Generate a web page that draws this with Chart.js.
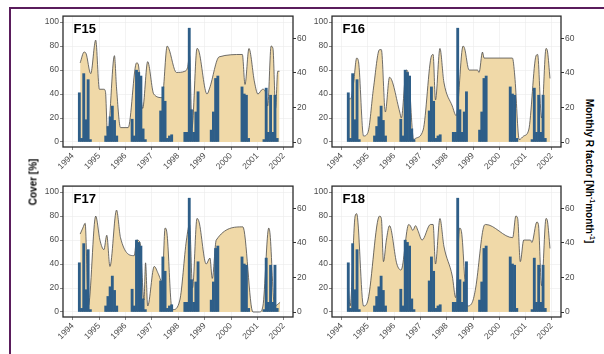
<!DOCTYPE html>
<html>
<head>
<meta charset="utf-8">
<script src="https://cdn.jsdelivr.net/npm/chart.js@4.4.0/dist/chart.umd.min.js"></script>
<style>
  html, body { margin: 0; padding: 0; background: #fff; }
  body { width: 604px; height: 354px; position: relative; overflow: hidden; font-family: "Liberation Sans", Arial, sans-serif; }
  .frame-top { position: absolute; left: 9px; top: 7px; width: 595px; height: 2px; background: #5a1d5c; }
  .frame-left { position: absolute; left: 9px; top: 7px; width: 2px; height: 347px; background: #5a1d5c; }
  canvas { position: absolute; }
  .ytitle { position: absolute; font-weight: bold; font-size: 10px; color: #000; white-space: nowrap; transform-origin: center; }
  .ytitle sup { font-size: 7px; }
</style>
</head>
<body>
<div class="frame-top"></div>
<div class="frame-left"></div>

<canvas id="c15" width="285" height="165" style="left:30px; top:10px;"></canvas>
<canvas id="c16" width="284" height="165" style="left:299px; top:10px;"></canvas>
<canvas id="c17" width="285" height="165" style="left:30px; top:180px;"></canvas>
<canvas id="c18" width="284" height="165" style="left:299px; top:180px;"></canvas>

<div class="ytitle" style="left:33px; top:182px; transform:translate(-50%,-50%) rotate(-90deg);">Cover [%]</div>
<div class="ytitle" style="left:590px; top:171px; transform:translate(-50%,-50%) rotate(90deg);">Monthly R factor [Nh<sup>-1</sup>month<sup>-1</sup>]</div>

<script>
// axis ticks
const yearTicks = [1994, 1995, 1996, 1997, 1998, 1999, 2000, 2001, 2002];
const coverTicks = [0, 20, 40, 60, 80, 100];
const rTicks = [0, 20, 40, 60];

// monthly R factor (same rainfall for every plot)
const rMonths = [
  '1994-04', '1994-05', '1994-06', '1994-07', '1994-08', '1994-09',
  '1995-04', '1995-05', '1995-06', '1995-07', '1995-08', '1995-09',
  '1996-04', '1996-05', '1996-06', '1996-07', '1996-08', '1996-09', '1996-10',
  '1997-05', '1997-06', '1997-07', '1997-08', '1997-09', '1997-10',
  '1998-04', '1998-05', '1998-06', '1998-07', '1998-08', '1998-09', '1998-10',
  '1999-04', '1999-05', '1999-06', '1999-07',
  '2000-06', '2000-07', '2000-08', '2000-09',
  '2001-04', '2001-05', '2001-06', '2001-07', '2001-08', '2001-09', '2001-10'
];
const rFactor = [
  28.5, 2.1, 39.6, 12.9, 36.1, 1.4,
  3.5, 9.0, 14.6, 20.8, 12.5, 3.5,
  13.2, 3.5, 41.6, 40.3, 38.2, 7.6, 1.4,
  18.0, 31.9, 23.6, 2.1, 3.5, 4.2,
  5.6, 5.6, 65.9, 18.7, 5.6, 17.4, 29.1,
  6.9, 17.4, 36.8, 38.2,
  31.9, 27.8, 27.1, 2.1,
  1.4, 31.2, 5.6, 27.1, 5.6, 27.1, 2.1
];

// vegetation cover per plot (decimal year, %)
const f15Years = [1994.28, 1994.43, 1994.50, 1994.68, 1994.87, 1995.01, 1995.18, 1995.24, 1995.32, 1995.58, 1995.66, 1995.81, 1996.10, 1996.42, 1996.48, 1996.65, 1996.84, 1997.07, 1997.39, 1997.58, 1997.64, 1997.93, 1998.25, 1998.35, 1998.43, 1998.52, 1998.71, 1998.78, 1999.09, 1999.19, 1999.55, 2000.43, 2000.53, 2000.68, 2000.89, 2001.02, 2001.20, 2001.33, 2001.39, 2001.52, 2001.59, 2001.69, 2001.77, 2001.84];
const f15Cover = [66, 75, 74, 57, 85, 44, 44, 42, 5, 72, 45, 12, 12, 66, 65, 28, 67, 40, 37, 80, 78, 58, 59, 62, 72, 12, 78, 76, 40, 45, 71, 73, 48, 78, 50, 40, 44, 40, 30, 80, 78, 28, 59, 59];

const f16Years = [1994.23, 1994.34, 1994.45, 1994.57, 1994.64, 1994.83, 1995.00, 1995.21, 1995.44, 1995.51, 1995.66, 1995.82, 1996.21, 1996.27, 1996.46, 1996.55, 1996.74, 1996.81, 1997.10, 1997.42, 1997.48, 1997.57, 1997.74, 1997.89, 1998.21, 1998.36, 1998.62, 1998.68, 1998.85, 1999.17, 1999.23, 1999.36, 1999.42, 2000.50, 2000.59, 2000.76, 2000.93, 2001.12, 2001.40, 2001.46, 2001.61, 2001.78, 2001.84, 2001.93];
const f16Cover = [36, 36, 49, 70, 67, 5, 8, 45, 77, 77, 25, 54, 25, 20, 60, 55, 2, 3, 10, 72, 73, 35, 78, 50, 30, 22, 80, 78, 60, 60, 58, 75, 70, 70, 55, 2, 5, 10, 72, 73, 20, 78, 75, 53];

const f17Years = [1994.28, 1994.38, 1994.47, 1994.59, 1994.87, 1995.03, 1995.18, 1995.29, 1995.41, 1995.66, 1995.81, 1996.33, 1996.42, 1996.55, 1996.70, 1996.76, 1996.84, 1997.09, 1997.24, 1997.39, 1997.50, 1997.58, 1997.74, 1997.80, 1998.06, 1998.31, 1998.43, 1998.54, 1998.71, 1998.79, 1999.06, 1999.20, 1999.29, 1999.44, 2000.45, 2000.83, 2001.08, 2001.21, 2001.43, 2001.48, 2001.65, 2001.86];
const f17Cover = [65, 70, 74, 5, 80, 60, 52, 64, 38, 85, 62, 47, 60, 58, 10, 41, 5, 38, 32, 25, 70, 64, 5, 2, 10, 60, 73, 20, 78, 75, 40, 45, 28, 60, 71, 0, 0, 5, 70, 65, 5, 8];

const f18Years = [1994.23, 1994.32, 1994.51, 1994.57, 1994.83, 1995.00, 1995.44, 1995.51, 1995.59, 1995.70, 1995.82, 1996.10, 1996.26, 1996.55, 1996.61, 1996.71, 1996.81, 1996.90, 1997.06, 1997.38, 1997.48, 1997.57, 1997.74, 1997.89, 1998.21, 1998.34, 1998.49, 1998.56, 1998.78, 1998.97, 1999.10, 1999.42, 1999.48, 2000.51, 2000.63, 2000.70, 2000.80, 2000.93, 2001.19, 2001.24, 2001.43, 2001.49, 2001.61, 2001.78, 2001.84, 2001.93];
const f18Cover = [28, 5, 80, 82, 5, 10, 80, 78, 42, 60, 72, 40, 35, 73, 72, 68, 72, 68, 60, 73, 73, 40, 78, 55, 30, 12, 70, 67, 5, 8, 20, 72, 73, 62, 80, 78, 42, 60, 60, 58, 75, 73, 22, 78, 75, 53];

const panels = [
  { canvas: 'c15', label: 'F15', years: f15Years, cover: f15Cover },
  { canvas: 'c16', label: 'F16', years: f16Years, cover: f16Cover },
  { canvas: 'c17', label: 'F17', years: f17Years, cover: f17Cover },
  { canvas: 'c18', label: 'F18', years: f18Years, cover: f18Cover }
];

const toYear = s => {
  const [y, m] = s.split('-').map(Number);
  return y + (m - 1) / 12;
};

Chart.defaults.font.family = '"Liberation Sans", Arial, sans-serif';

// panel box + plot name
const panelFrame = {
  id: 'panelFrame',
  afterDraw(chart, args, opts) {
    const { ctx, chartArea: a } = chart;
    ctx.save();
    ctx.strokeStyle = '#2b2b2b';
    ctx.lineWidth = 1.3;
    ctx.strokeRect(a.left, a.top, a.right - a.left, a.bottom - a.top);
    ctx.fillStyle = '#000';
    ctx.font = 'bold 13px "Liberation Sans", Arial, sans-serif';
    ctx.textBaseline = 'alphabetic';
    ctx.fillText(opts.label, a.left + 10.5, a.top + 16.7);
    ctx.restore();
  }
};

const tickStyle = { color: '#4d4d4d', font: { size: 8.5 }, padding: 1 };

panels.forEach(p => {
  const ctx = document.getElementById(p.canvas).getContext('2d');
  new Chart(ctx, {
    type: 'line',
    data: {
      datasets: [
        {
          type: 'bar',
          label: 'R factor',
          data: rMonths.map((m, i) => ({ x: toYear(m), y: rFactor[i] })),
          yAxisID: 'y1',
          backgroundColor: '#2e5e88',
          barPercentage: 1,
          categoryPercentage: 1,
          order: 1
        },
        {
          type: 'line',
          label: 'Cover',
          data: p.years.map((x, i) => ({ x: x, y: p.cover[i] })),
          yAxisID: 'y',
          borderColor: '#4a4a4a',
          borderWidth: 0.8,
          backgroundColor: '#f0d9a8',
          fill: 'origin',
          pointRadius: 0,
          cubicInterpolationMode: 'monotone',
          order: 2
        }
      ]
    },
    options: {
      responsive: false,
      animation: false,
      layout: { padding: { top: 6, left: 0, right: 0, bottom: 0 } },
      plugins: {
        legend: { display: false },
        tooltip: { enabled: false },
        panelFrame: { label: p.label }
      },
      scales: {
        x: {
          type: 'linear',
          min: 1993.63,
          max: 2002.35,
          offset: false,
          afterBuildTicks: s => { s.ticks = yearTicks.map(v => ({ value: v })); },
          afterFit: s => { s.height = 28; },
          grid: { color: '#ebebeb', lineWidth: 0.6, tickLength: 3, tickColor: '#333', offset: false },
          border: { display: false },
          ticks: { ...tickStyle, minRotation: 45, maxRotation: 45, callback: v => String(v) }
        },
        y: {
          position: 'left',
          min: -4.17,
          max: 105,
          afterBuildTicks: s => { s.ticks = coverTicks.map(v => ({ value: v })); },
          afterFit: s => { s.width = 33; },
          grid: { color: '#ebebeb', lineWidth: 0.6, tickLength: 3, tickColor: '#333' },
          border: { display: false },
          ticks: { ...tickStyle, callback: v => String(v) }
        },
        y1: {
          position: 'right',
          min: -2.89,
          max: 72.9,
          afterBuildTicks: s => { s.ticks = rTicks.map(v => ({ value: v })); },
          afterFit: s => { s.width = 22; },
          grid: { drawOnChartArea: false, tickLength: 3, tickColor: '#333' },
          border: { display: false },
          ticks: { ...tickStyle, callback: v => String(v) }
        }
      }
    },
    plugins: [panelFrame]
  });
});
</script>
</body>
</html>
